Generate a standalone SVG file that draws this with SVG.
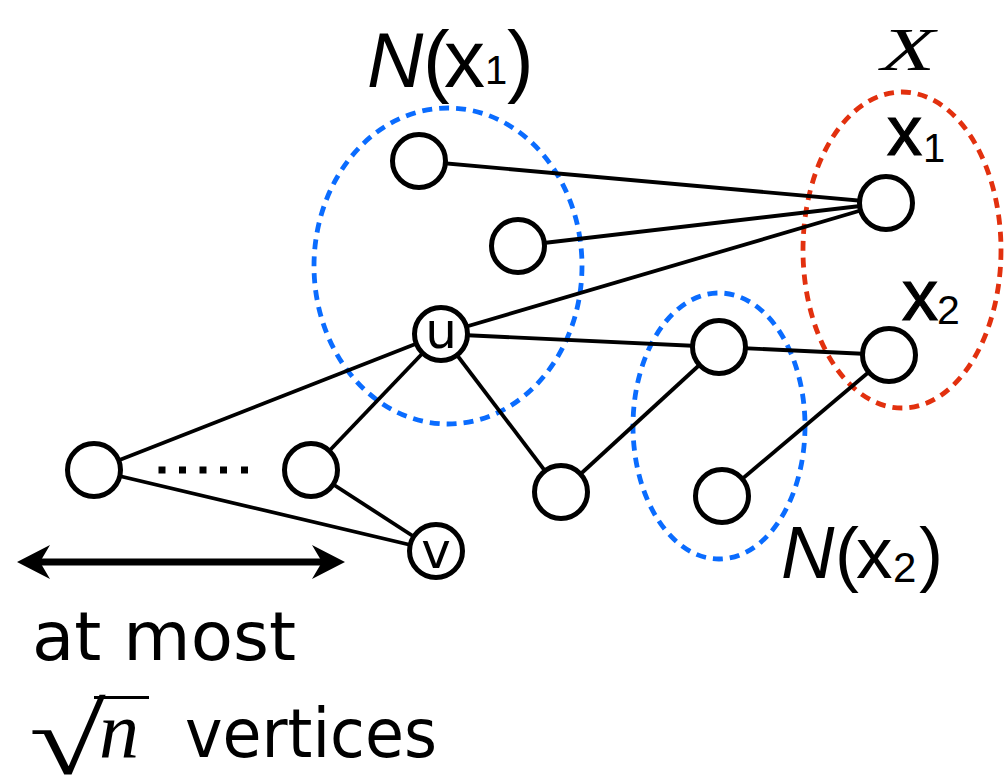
<svg xmlns="http://www.w3.org/2000/svg" width="1004" height="775" viewBox="0 0 1004 775">
  <style>
    .edge { stroke: #000; stroke-width: 3.8; fill: none; }
    .node { fill: #fff; stroke: #000; stroke-width: 5; }
    .set { fill: none; stroke-width: 4.8; stroke-dasharray: 10 7; }
    .blue { stroke: #0a6cff; }
    .red { stroke: #e2300e; }
    .sans { font-family: "Liberation Sans", Arial, sans-serif; fill: #000; }
    .heavy { stroke: #000; stroke-width: 1.2; }
    .lbl { font-family: "DejaVu Sans", sans-serif; fill: #000; }
    .serif { font-family: "Liberation Serif", "Times New Roman", serif; font-style: italic; fill: #000; }
  </style>
  <defs>
    <marker id="head" markerUnits="userSpaceOnUse" markerWidth="40" markerHeight="40" viewBox="-12 -20 40 40" refX="0" refY="0" orient="auto-start-reverse">
      <path d="M23,0 L-10,-17 L0,0 L-10,17 Z" fill="#000"/>
    </marker>
  </defs>
  <rect width="1004" height="775" fill="#fff"/>

  <!-- vertex sets -->
  <g id="sets">
    <ellipse id="set-N-x1" class="set blue" cx="448" cy="266" rx="134" ry="158"/>
    <ellipse id="set-N-x2" class="set blue" cx="719" cy="426" rx="86" ry="133"/>
    <ellipse id="set-X" class="set red" cx="902" cy="250" rx="99" ry="158"/>
  </g>

  <!-- edges -->
  <g id="connectors">
    <line class="edge" x1="419" y1="161" x2="886" y2="203"/>
    <line class="edge" x1="518" y1="246" x2="886" y2="203"/>
    <line class="edge" x1="441" y1="334" x2="886" y2="203"/>
    <line class="edge" x1="441" y1="334" x2="719" y2="347"/>
    <line class="edge" x1="719" y1="347" x2="889" y2="355"/>
    <line class="edge" x1="441" y1="334" x2="94" y2="470"/>
    <line class="edge" x1="441" y1="334" x2="311" y2="470"/>
    <line class="edge" x1="441" y1="334" x2="561" y2="492"/>
    <line class="edge" x1="561" y1="492" x2="719" y2="347"/>
    <line class="edge" x1="722" y1="496" x2="889" y2="355"/>
    <line class="edge" x1="94" y1="470" x2="436" y2="551"/>
    <line class="edge" x1="311" y1="470" x2="436" y2="551"/>
  </g>

  <!-- vertices -->
  <g id="node-a"><circle class="node" cx="419" cy="161" r="26.5"/></g>
  <g id="node-b"><circle class="node" cx="518" cy="246" r="26.5"/></g>
  <g id="node-x1"><circle class="node" cx="886" cy="203" r="26.5"/></g>
  <g id="node-x2"><circle class="node" cx="889" cy="355" r="26.5"/></g>
  <g id="node-u">
    <circle class="node" cx="441" cy="334" r="26.5"/>
    <text class="lbl" x="441" y="348" font-size="50" text-anchor="middle">u</text>
  </g>
  <g id="node-v">
    <circle class="node" cx="436" cy="551" r="26.5"/>
    <text class="lbl" x="436" y="568" font-size="50" text-anchor="middle">v</text>
  </g>
  <g id="node-left"><circle class="node" cx="94" cy="470" r="26.5"/></g>
  <g id="node-mid"><circle class="node" cx="311" cy="470" r="26.5"/></g>
  <g id="node-c"><circle class="node" cx="561" cy="492" r="26.5"/></g>
  <g id="node-d"><circle class="node" cx="719" cy="347" r="26.5"/></g>
  <g id="node-e"><circle class="node" cx="722" cy="496" r="26.5"/></g>

  <!-- path ellipsis -->
  <g id="dots" fill="#000">
    <rect x="158.5" y="466.5" width="7" height="7"/>
    <rect x="179" y="466.5" width="7" height="7"/>
    <rect x="199.5" y="466.5" width="7" height="7"/>
    <rect x="220" y="466.5" width="7" height="7"/>
    <rect x="241" y="466.5" width="7" height="7"/>
  </g>

  <!-- labels -->
  <g id="label-N-x1" class="sans">
    <text x="367" y="87" font-size="78" font-style="italic">N</text>
    <text x="423" y="87" font-size="80">(</text>
    <text x="444" y="87" font-size="82">x</text>
    <text x="485" y="84" font-size="40">1</text>
    <text x="507" y="87" font-size="80">)</text>
  </g>
  <g id="label-N-x2" class="sans">
    <text x="781" y="578" font-size="74" font-style="italic">N</text>
    <text x="835" y="578" font-size="72">(</text>
    <text x="856" y="578" font-size="73">x</text>
    <text x="893" y="582" font-size="42">2</text>
    <text x="919" y="578" font-size="72">)</text>
  </g>
  <g id="label-X">
    <text class="serif" x="881" y="70" font-size="62" textLength="54" lengthAdjust="spacingAndGlyphs">X</text>
  </g>
  <g id="label-x1" class="sans">
    <text class="heavy" x="887" y="155" font-size="70">x</text>
    <text x="923" y="162" font-size="40">1</text>
  </g>
  <g id="label-x2" class="sans">
    <text class="heavy" x="902" y="320" font-size="72">x</text>
    <text x="937" y="324" font-size="41">2</text>
  </g>

  <!-- span indicator -->
  <g id="span-arrow">
    <line x1="40" y1="562" x2="322" y2="562" stroke="#000" stroke-width="7" marker-start="url(#head)" marker-end="url(#head)"/>
  </g>
  <g id="span-caption">
    <text class="lbl" x="32" y="660" font-size="68" textLength="264" lengthAdjust="spacingAndGlyphs">at most</text>
    <text class="serif" transform="translate(29,774) scale(1.4,1)" x="0" y="0" font-size="100" font-style="normal">√</text>
    <line x1="94" y1="697.5" x2="149" y2="697.5" stroke="#000" stroke-width="3"/>
    <text class="serif" x="99" y="757" font-size="80">n</text>
    <text class="lbl" x="185" y="757" font-size="68" textLength="252" lengthAdjust="spacingAndGlyphs">vertices</text>
  </g>
</svg>
